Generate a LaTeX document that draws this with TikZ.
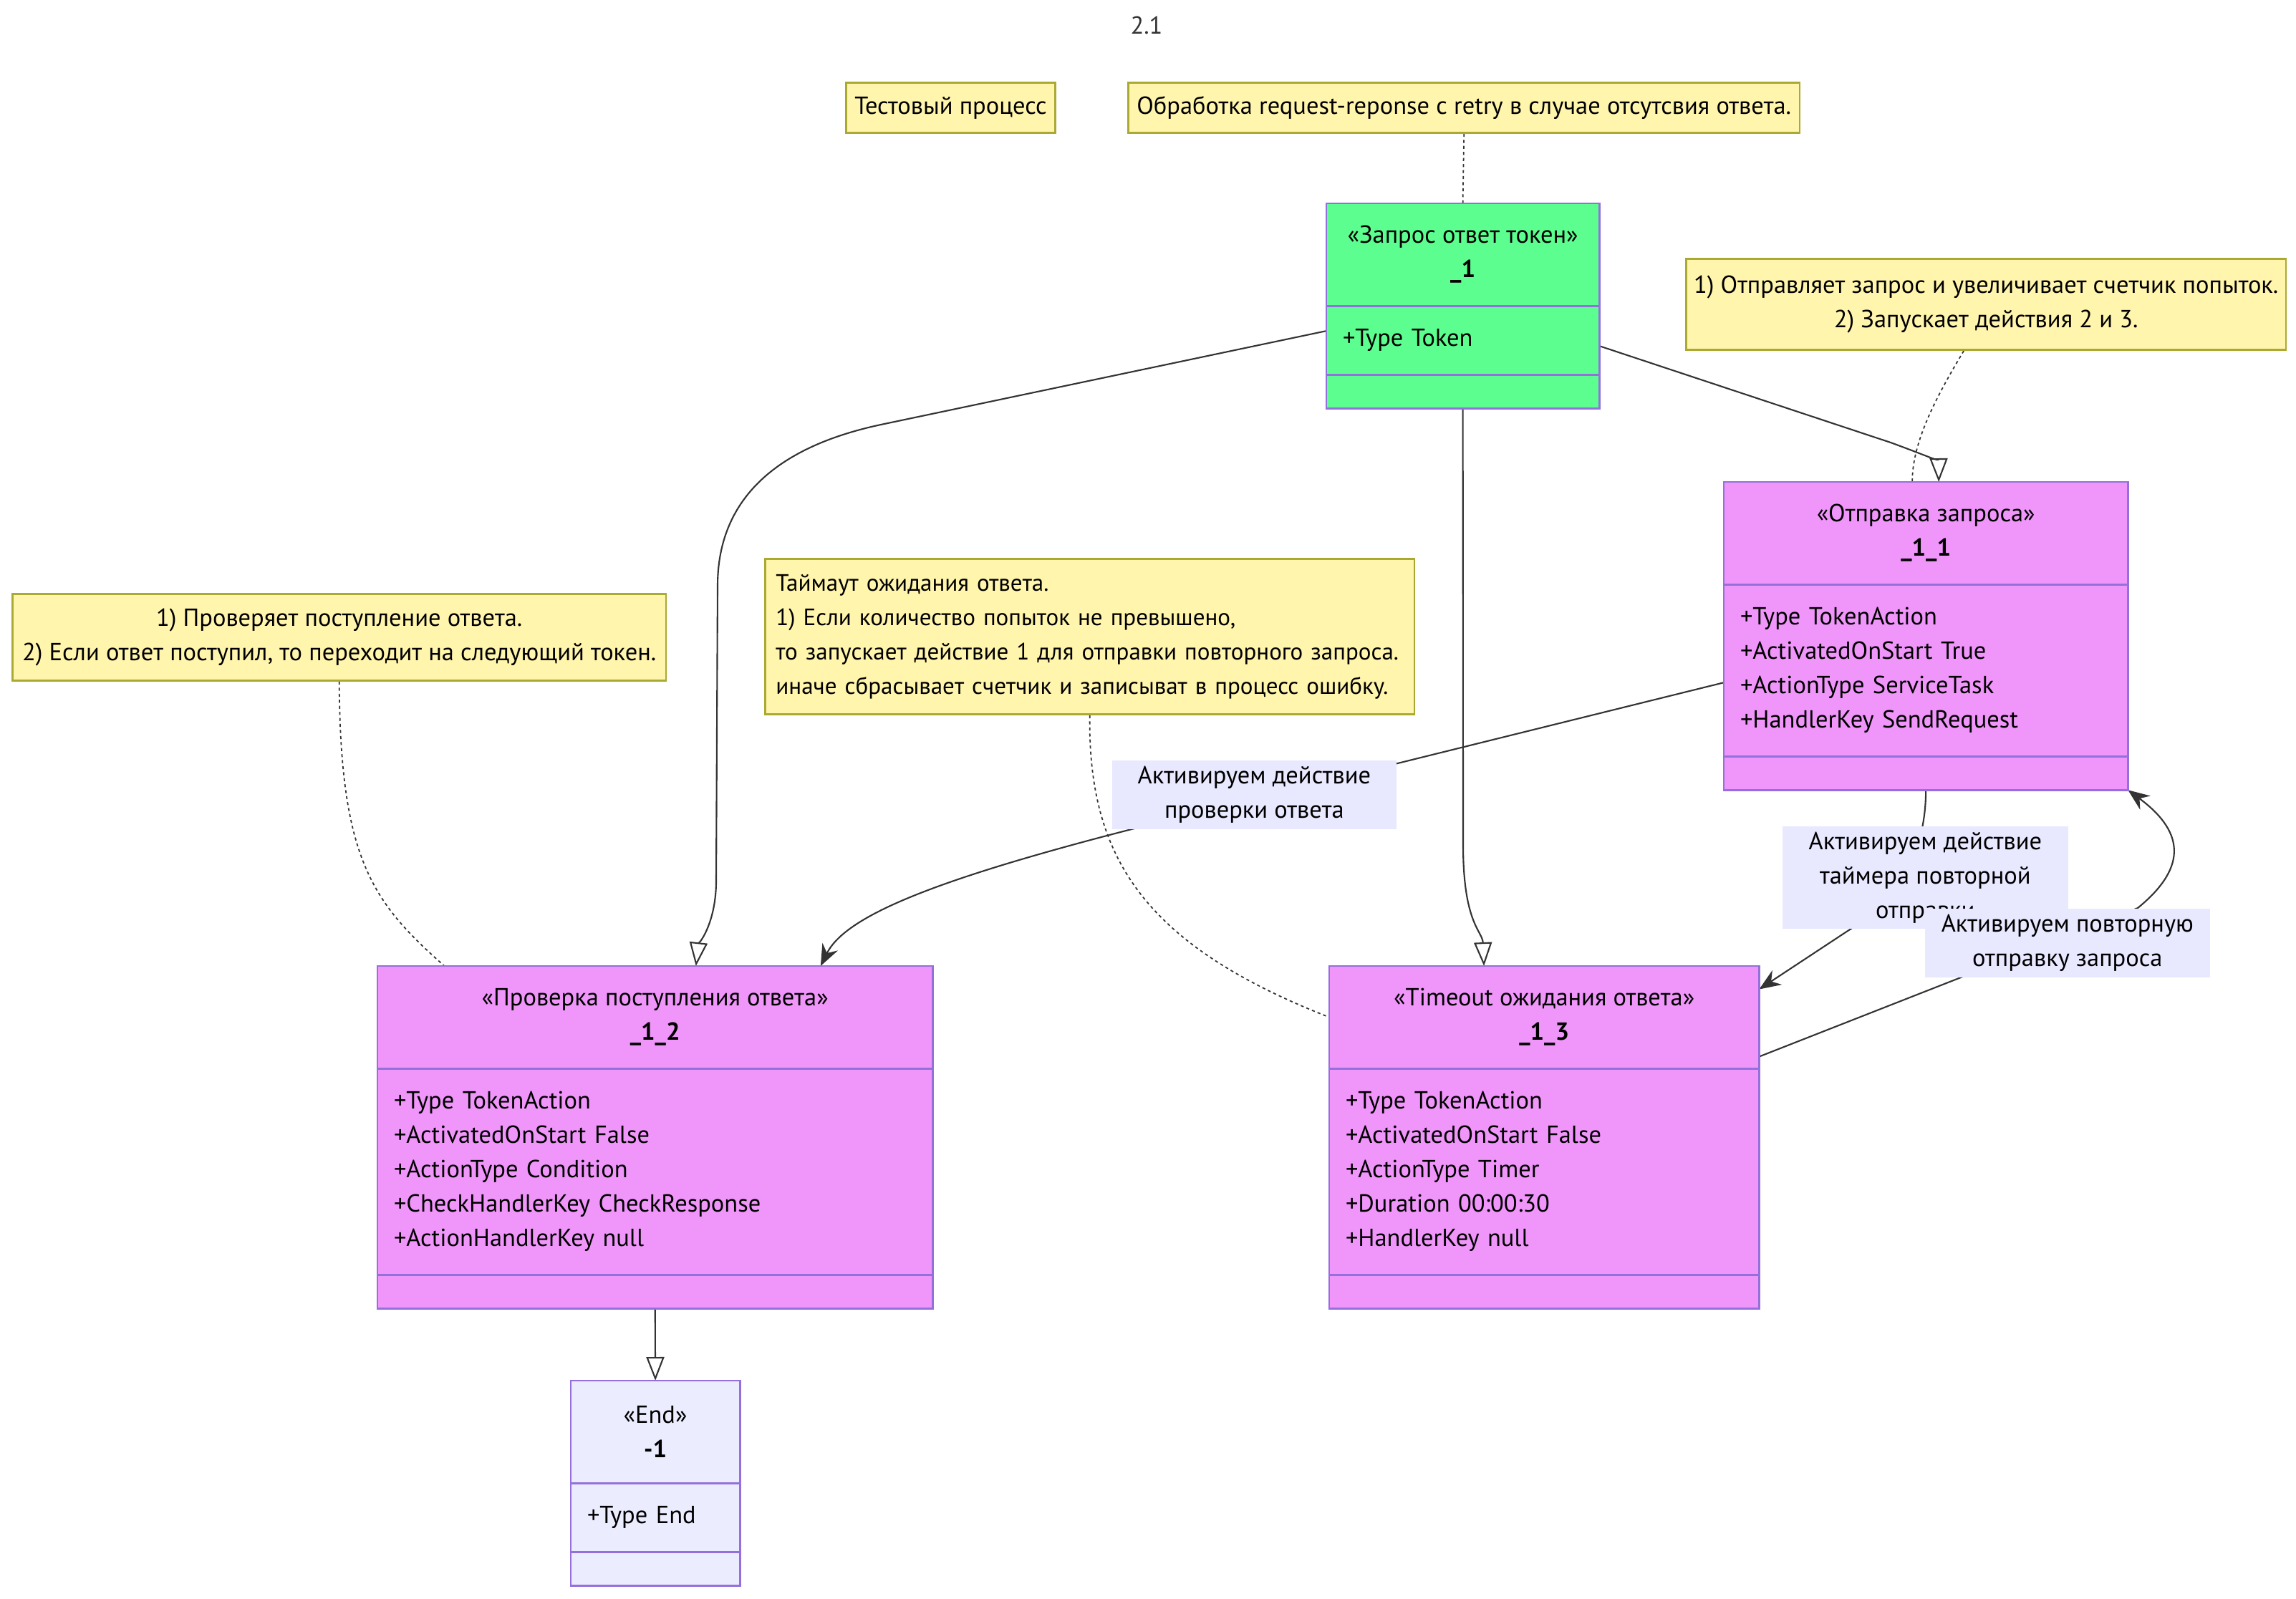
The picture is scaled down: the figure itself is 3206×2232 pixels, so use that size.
\documentclass[tikz,border=0pt]{standalone}
\usepackage{fontspec}
\setmainfont{PT Sans}
\usepackage{tikz}
\usetikzlibrary{arrows.meta,positioning,backgrounds}
\definecolor{tokgreen}{HTML}{5CFF8F}
\definecolor{actpink}{HTML}{F096FA}
\definecolor{endlav}{HTML}{ECECFF}
\definecolor{umlborder}{HTML}{9370DB}
\definecolor{notefill}{HTML}{FFF5AD}
\definecolor{noteborder}{HTML}{AAAA33}
\definecolor{lblfill}{HTML}{E8E8FF}
\definecolor{edgegray}{HTML}{333333}
\newcommand{\umlfont}{\fontsize{9.8pt}{13.66pt}\selectfont}
\tikzset{
  classhead/.style={
    rectangle, draw=umlborder, fill=#1, line width=0.8pt,
    minimum height=1.43cm, align=center,
    inner sep=0pt, outer sep=0pt, font=\umlfont
  },
  classhead/.default=actpink,
  classattr/.style={
    rectangle, draw=umlborder, fill=#1, line width=0.8pt,
    align=left, inner xsep=0.23cm, inner ysep=0pt,
    outer sep=0pt, font=\umlfont
  },
  classattr/.default=actpink,
  classops/.style={
    rectangle, draw=umlborder, fill=#1, line width=0.8pt,
    minimum height=0.47cm, inner sep=0pt, outer sep=0pt
  },
  classops/.default=actpink,
  notebox/.style={rectangle, draw=noteborder, fill=notefill, line width=0.8pt,
    align=center, inner sep=0pt, font=\umlfont, anchor=north west},
  edgelbl/.style={rectangle, fill=lblfill, align=center,
    inner sep=0pt, font=\umlfont, anchor=north west},
  inherit/.style={-{Triangle[open, length=0.33cm, width=0.25cm]},
    line width=0.6pt, draw=edgegray},
  depend/.style={-{Stealth[length=0.3cm, width=0.24cm, inset=0.1cm]},
    line width=0.6pt, draw=edgegray},
  notelink/.style={draw=edgegray, line width=0.5pt, dash pattern=on 1.2pt off 1.2pt},
}

\begin{document}
\begin{tikzpicture}[x=0.01cm, y=-0.01cm]
\useasboundingbox (0,0) rectangle (3206,2232);
\node[font=\umlfont, text=edgegray] (title) at (1601,35) {2.1};
\node[notebox, minimum width=2.92cm, minimum height=0.70cm] (ntest) at (1180,114) {Тестовый процесс};
\node[notebox, minimum width=9.37cm, minimum height=0.70cm] (nflow) at (1574,114) {Обработка request-reponse с retry в случае отсутсвия ответа.};
\node[notebox, minimum width=8.37cm, minimum height=1.27cm] (nsend) at (2353,360) {1) Отправляет запрос и увеличивает счетчик попыток.\\2) Запускает действия 2 и 3.};
\node[notebox, minimum width=9.12cm, minimum height=1.21cm] (ncheck) at (16,828) {1) Проверяет поступление ответа.\\2) Если ответ поступил, то переходит на следующий токен.};
\node[notebox, align=left, text width=8.76cm, inner xsep=0.15cm, minimum height=2.17cm, font=\fontsize{9.4pt}{13.66pt}\selectfont] (nwait) at (1067,779) {Таймаут ожидания ответа.\\1) Если количество попыток не превышено,\\то запускает действие 1 для отправки повторного запроса.\\иначе сбрасывает счетчик и записыват в процесс ошибку.};

\node[classhead=tokgreen, minimum width=3.81cm, anchor=north west] (start) at (1852,284) {«Запрос ответ токен»\\\textbf{\_1}};
\node[classattr=tokgreen, text width=3.35cm, minimum height=0.96cm, below=0pt of start] (starta) {+Type Token};
\node[classops=tokgreen, minimum width=3.81cm, below=0pt of starta] (starto) {};

\node[classhead, minimum width=5.64cm, anchor=north west] (send) at (2407,673) {«Отправка запроса»\\\textbf{\_1\_1}};
\node[classattr, text width=5.18cm, minimum height=2.40cm, below=0pt of send] (senda) {+Type TokenAction\\+ActivatedOnStart True\\+ActionType ServiceTask\\+HandlerKey SendRequest};
\node[classops, minimum width=5.64cm, below=0pt of senda] (sendo) {};

\node[classhead, minimum width=7.75cm, anchor=north west] (check) at (527,1349) {«Проверка поступления ответа»\\\textbf{\_1\_2}};
\node[classattr, text width=7.29cm, minimum height=2.88cm, below=0pt of check] (checka) {+Type TokenAction\\+ActivatedOnStart False\\+ActionType Condition\\+CheckHandlerKey CheckResponse\\+ActionHandlerKey null};
\node[classops, minimum width=7.75cm, below=0pt of checka] (checko) {};

\node[classhead, minimum width=6.00cm, anchor=north west] (wait) at (1856,1349) {«Timeout ожидания ответа»\\\textbf{\_1\_3}};
\node[classattr, text width=5.54cm, minimum height=2.88cm, below=0pt of wait] (waita) {+Type TokenAction\\+ActivatedOnStart False\\+ActionType Timer\\+Duration 00:00:30\\+HandlerKey null};
\node[classops, minimum width=6.00cm, below=0pt of waita] (waito) {};

\node[classhead=endlav, minimum width=2.36cm, anchor=north west] (fin) at (797,1928) {«End»\\\textbf{-1}};
\node[classattr=endlav, text width=1.90cm, minimum height=0.96cm, below=0pt of fin] (fina) {+Type End};
\node[classops=endlav, minimum width=2.36cm, below=0pt of fina] (fino) {};

\node[edgelbl, minimum width=3.97cm, minimum height=0.96cm] (lcheck) at (1552,1061) {Активируем действие\\проверки ответа};
\node[edgelbl, minimum width=3.99cm, minimum height=1.43cm] (lwait) at (2488,1153) {Активируем действие\\таймера повторной\\отправки};
\node[edgelbl, minimum width=3.98cm, minimum height=0.96cm] (lretry) at (2687,1268) {Активируем повторную\\отправку запроса};

\begin{scope}[on background layer]
\draw[notelink] (nflow.south) -- (start.north);
\draw[notelink] ([xshift=-0.31cm]nsend.south) .. controls (2700,560) and (2670,620) .. ([xshift=-0.19cm]send.north);
\draw[notelink] (ncheck.south) .. controls (475,1200) and (520,1260) .. ([xshift=-2.94cm]check.north);
\draw[notelink] (nwait.south) .. controls (1519,1200) and (1600,1320) .. (wait.west);
\draw[inherit] ([yshift=0.13cm]starta.west) -- (1230,593) .. controls (1080,625) and (1002,700) .. (1002,818) -- (1000,1230) .. controls (1000,1290) and (975,1320) .. ([xshift=0.57cm]check.north);
\draw[inherit] (starto.south) -- (2043,1180) .. controls (2043,1290) and (2070,1300) .. ([xshift=-0.84cm]wait.north);
\draw[inherit] ([yshift=-0.08cm]starta.east) -- (2640,618) .. controls (2700,640) and (2707,645) .. ([xshift=0.18cm]send.north);
\draw[inherit] (checko.south) -- (fin.north);
\draw[depend] ([yshift=-0.17cm]senda.west) -- (1580,1158) .. controls (1300,1230) and (1180,1280) .. ([xshift=2.31cm]check.north);
\draw[depend] (sendo.south) .. controls (2689,1180) and (2660,1250) .. (2580,1300) -- ([yshift=0.39cm]wait.east);
\draw[depend] ([yshift=-0.55cm]wait.east) -- (2985,1268) .. controls (3050,1215) and (3055,1165) .. (sendo.south east);
\end{scope}
\end{tikzpicture}
\end{document}
